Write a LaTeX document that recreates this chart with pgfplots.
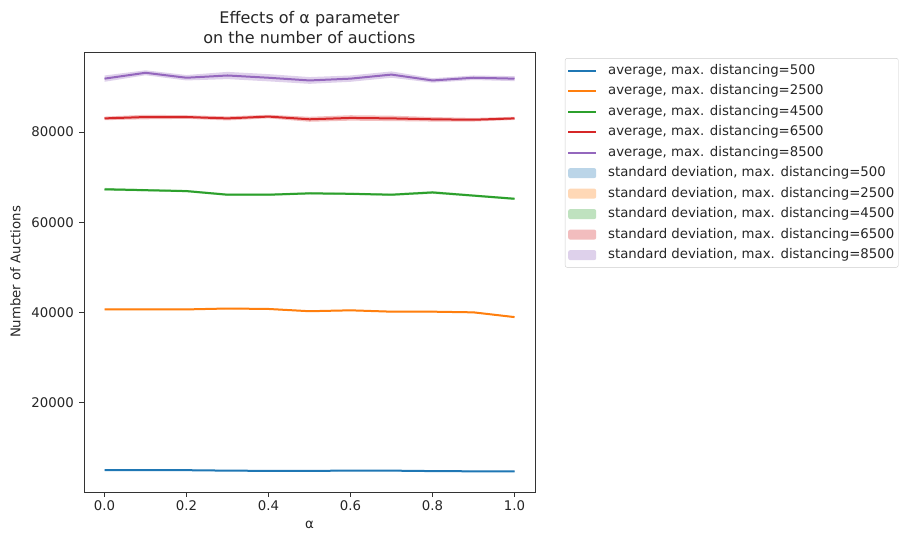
\documentclass[border=0pt]{standalone}
\usepackage{pgfplots}
\pgfplotsset{compat=1.18}
\usepackage{pgfplotstable}
\usepgfplotslibrary{fillbetween}
\usepackage{fontspec}
\setmainfont{DejaVu Sans}
\definecolor{c1}{HTML}{1F77B4}
\definecolor{c2}{HTML}{FF7F0E}
\definecolor{c3}{HTML}{2CA02C}
\definecolor{c4}{HTML}{D62728}
\definecolor{c5}{HTML}{9467BD}
\pgfplotsset{
  myarea/.style={area legend, draw=none, fill=#1, fill opacity=0.3,
    legend image code/.code={\fill[##1] (0pt,-5pt) rectangle (28pt,5pt);}},
  myline/.style={#1, line width=2pt,
    legend image code/.code={\draw[##1] (0pt,0pt) -- (28pt,0pt);}},
}
\pgfplotstableread{
a m1 s1 m2 s2 m3 s3 m4 s4 m5 s5
0.0 5100 120 40700 150 67300 300 83000 400 91800 700
0.1 5100 120 40700 150 67100 250 83300 500 93100 550
0.2 5100 120 40700 150 66900 250 83300 400 92000 600
0.3 5000 120 40900 150 66100 250 83000 450 92500 800
0.4 4950 120 40800 150 66100 250 83400 400 92000 800
0.5 4950 120 40300 150 66400 250 82800 550 91400 750
0.6 5000 120 40500 150 66300 250 83100 600 91800 700
0.7 5000 120 40200 150 66100 250 83000 600 92700 700
0.8 4900 120 40200 150 66600 300 82800 500 91400 500
0.9 4850 120 40050 150 65900 250 82700 400 92000 500
1.0 4850 120 39000 150 65200 250 83000 350 91800 550
}\data
\begin{document}
\begin{tikzpicture}[x=1pt,y=1pt]
\begin{axis}[
  at={(84pt,41pt)}, anchor=south west,
  scale only axis, width=451pt, height=440pt,
  xmin=-0.05, xmax=1.05, ymin=270, ymax=97700,
  xtick={0,0.2,...,1.0},
  ytick={20000,40000,60000,80000},
  xticklabel style={/pgf/number format/.cd, fixed, fixed zerofill, precision=1},
  yticklabel style={/pgf/number format/.cd, fixed, 1000 sep={}, /tikz/xshift=-2pt},
  /pgf/number format/assume math mode=true,
  scaled ticks=false,
  tick align=outside, major tick length=4.7pt,
  tick style={black!80, line width=0.85pt},
  xtick pos=bottom, ytick pos=left,
  axis line style={black!80, line width=0.85pt},
  ticklabel style={font=\fontsize{13.3}{16}\selectfont, text=black!85},
  label style={font=\fontsize{13.3}{16}\selectfont, text=black!85},
  xlabel={α}, ylabel={Number of Auctions},
  xlabel shift=4pt, ylabel shift=4pt,
  title={Effects of α parameter\\on the number of auctions},
  title style={align=center, font=\fontsize{16}{20.5}\selectfont, text=black!85, yshift=-1.5pt},
  legend cell align=left,
  legend style={at={(1.0665,0.986)}, anchor=north west, draw=black!20, rounded corners=2pt,
    font=\fontsize{13.3}{16}\selectfont, text=black!85, inner sep=2pt, row sep=0pt,
    nodes={inner ysep=3.5pt, text height=10.5pt, text depth=3pt},
    /tikz/every odd column/.append style={column sep=9pt}},
]
\addplot[myline=c1] table[x=a,y=m1]{\data};
\addplot[myline=c2] table[x=a,y=m2]{\data};
\addplot[myline=c3] table[x=a,y=m3]{\data};
\addplot[myline=c4] table[x=a,y=m4]{\data};
\addplot[myline=c5] table[x=a,y=m5]{\data};
\addplot[name path=u1, draw=none, forget plot] table[x=a, y expr=\thisrow{m1}+\thisrow{s1}]{\data};
\addplot[name path=l1, draw=none, forget plot] table[x=a, y expr=\thisrow{m1}-\thisrow{s1}]{\data};
\addplot[name path=u2, draw=none, forget plot] table[x=a, y expr=\thisrow{m2}+\thisrow{s2}]{\data};
\addplot[name path=l2, draw=none, forget plot] table[x=a, y expr=\thisrow{m2}-\thisrow{s2}]{\data};
\addplot[name path=u3, draw=none, forget plot] table[x=a, y expr=\thisrow{m3}+\thisrow{s3}]{\data};
\addplot[name path=l3, draw=none, forget plot] table[x=a, y expr=\thisrow{m3}-\thisrow{s3}]{\data};
\addplot[name path=u4, draw=none, forget plot] table[x=a, y expr=\thisrow{m4}+\thisrow{s4}]{\data};
\addplot[name path=l4, draw=none, forget plot] table[x=a, y expr=\thisrow{m4}-\thisrow{s4}]{\data};
\addplot[name path=u5, draw=none, forget plot] table[x=a, y expr=\thisrow{m5}+\thisrow{s5}]{\data};
\addplot[name path=l5, draw=none, forget plot] table[x=a, y expr=\thisrow{m5}-\thisrow{s5}]{\data};
\addplot[myarea=c1] fill between[of=u1 and l1];
\addplot[myarea=c2] fill between[of=u2 and l2];
\addplot[myarea=c3] fill between[of=u3 and l3];
\addplot[myarea=c4] fill between[of=u4 and l4];
\addplot[myarea=c5] fill between[of=u5 and l5];
\legend{average{,} max. distancing=500, average{,} max. distancing=2500, average{,} max. distancing=4500, average{,} max. distancing=6500, average{,} max. distancing=8500,
standard deviation{,} max. distancing=500, standard deviation{,} max. distancing=2500, standard deviation{,} max. distancing=4500, standard deviation{,} max. distancing=6500, standard deviation{,} max. distancing=8500}
\end{axis}
\pgfresetboundingbox
\path[use as bounding box] (0,0) rectangle (900,533);
\end{tikzpicture}
\end{document}
